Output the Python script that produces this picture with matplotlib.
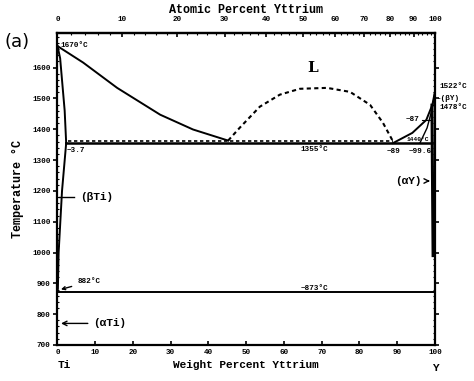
import numpy as np
import matplotlib.pyplot as plt
from matplotlib.ticker import MultipleLocator, FixedLocator

# 相图数据（重量百分比 Y, 温度 °C）
liq_ti_w = [0.0, 0.7, 6.8, 15.8, 27.2, 35.9, 45.2]
liq_ti_t = [1670, 1664, 1616, 1534, 1447, 1399, 1363]

sol_ti_w = [0.0, 0.7, 1.9, 2.3]
sol_ti_t = [1670, 1630, 1460, 1355]

solv_ti_w = [2.3, 1.2, 0.3, 0.1]
solv_ti_t = [1355, 1200, 1000, 882]

dome_w = [45.2, 48.3, 53.6, 58.9, 64.2, 71.4, 77.5, 82.8, 86.2, 88.9]
dome_t = [1363, 1405, 1473, 1512, 1531, 1534, 1521, 1479, 1421, 1360]

liq_y_w = [88.9, 94.0, 97.7, 99.3, 100.0]
liq_y_t = [1355, 1388, 1430, 1479, 1522]

sol_y_w = [96.0, 97.9, 99.2, 100.0]
sol_y_t = [1355, 1404, 1463, 1522]

solv_y_w = [99.2, 99.3, 99.5]
solv_y_t = [1478, 1300, 990]

T_mono = 1355      # 实线
T_dash = 1363      # 虚线
T_eutectoid = 873
T_ti_ab = 882

w_mono = [2.3, 99.3]
w_dash = [2.8, 88.9]
w_eutectoid = [0.1, 100.0]

at_ticks = [0, 10, 20, 30, 40, 50, 60, 70, 80, 90, 100]
wt_ticks = [0, 10, 20, 30, 40, 50, 60, 70, 80, 90, 100]
t_ticks = [700, 800, 900, 1000, 1100, 1200, 1300, 1400, 1500, 1600]

M_TI, M_Y = 47.867, 88.906


def wt2at(w):
    w = np.clip(np.asarray(w, dtype=float), 0, 100)
    a = w / M_Y
    b = (100 - w) / M_TI
    return 100 * a / (a + b)


def at2wt(x):
    x = np.clip(np.asarray(x, dtype=float), 0, 100)
    a = x * M_Y
    b = (100 - x) * M_TI
    return 100 * a / (a + b)


mono = 'Liberation Mono'
fig = plt.figure(figsize=(4.74, 3.81), dpi=100)
ax = fig.add_axes([0.1213, 0.0945, 0.7964, 0.8189])
ax.set_xlim(0, 100)
ax.set_ylim(700, 1712)

lw = 1.4
k = 'black'
ax.plot(liq_ti_w, liq_ti_t, color=k, lw=lw)
ax.plot(sol_ti_w, sol_ti_t, color=k, lw=lw)
ax.plot(solv_ti_w, solv_ti_t, color=k, lw=lw)
ax.plot(dome_w, dome_t, color=k, lw=1.5, ls=(0, (2, 1.6)))
ax.plot(liq_y_w, liq_y_t, color=k, lw=lw)
ax.plot(sol_y_w, sol_y_t, color=k, lw=1.0)
ax.plot(solv_y_w, solv_y_t, color=k, lw=2.2)
ax.plot([99.2, 100], [1478, 1478], color=k, lw=1.0)
ax.plot(w_mono, [T_mono, T_mono], color=k, lw=1.8)
ax.plot(w_dash, [T_dash, T_dash], color=k, lw=1.2, ls=(0, (2, 1.6)))
ax.plot(w_eutectoid, [T_eutectoid, T_eutectoid], color=k, lw=1.4)

# 文字标注
fs = 5.5
tk = dict(family=mono, fontweight='bold', fontsize=fs)
ax.text(0.8, 1670, '1670°C', va='center', ha='left', **tk)
ax.text(2.5, 1330, '~3.7', va='center', ha='left', **tk)
ax.text(6.0, 1180, '(βTi)', va='center', ha='left', family=mono, fontweight='bold', fontsize=8)
ax.plot([0.3, 4.5], [1180, 1180], color=k, lw=1.0)
ax.annotate('882°C', xy=(0.2, 878), xytext=(5.2, 905), va='center', ha='left',
            arrowprops=dict(arrowstyle='->', color=k, lw=1.0), **tk)
ax.annotate('(αTi)', xy=(0.2, 770), xytext=(9.5, 770), va='center', ha='left',
            arrowprops=dict(arrowstyle='->', color=k, lw=1.0),
            family=mono, fontweight='bold', fontsize=8)
ax.text(64.5, 873, '~873°C', va='bottom', ha='left', **tk)
ax.text(64.3, 1345, '1355°C', va='top', ha='left', **tk)
ax.text(89.0, 1340, '~89', va='top', ha='center', **tk)
ax.text(96.0, 1340, '~99.6', va='top', ha='center', **tk)
ax.text(92.6, 1360, '1440°C', va='bottom', ha='left', family=mono, fontweight='bold', fontsize=4.5)
ax.text(94.0, 1430, '~87', va='center', ha='center', **tk)
ax.plot([96.5, 99.3], [1430, 1430], color=k, lw=0.8)
ax.text(101.2, 1540, '1522°C', va='center', ha='left', clip_on=False, **tk)
ax.text(100.6, 1500, '-(βY)', va='center', ha='left', clip_on=False, **tk)
ax.text(101.2, 1470, '1478°C', va='center', ha='left', clip_on=False, **tk)
ax.annotate('(αY)', xy=(99.4, 1232), xytext=(96.5, 1232), va='center', ha='right',
            arrowprops=dict(arrowstyle='->', color=k, lw=1.0),
            family=mono, fontweight='bold', fontsize=8)
ax.text(67.5, 1600, 'L', va='center', ha='center', family='DejaVu Serif',
        fontweight='bold', fontsize=11)

# 坐标轴
for s in ax.spines.values():
    s.set_linewidth(1.6)
ax.set_xticks(wt_ticks)
ax.set_xticklabels([str(v) for v in wt_ticks], **tk)
ax.set_yticks(t_ticks)
ax.set_yticklabels([str(v) for v in t_ticks], **tk)
ax.yaxis.set_minor_locator(MultipleLocator(20))
ax.tick_params(axis='x', direction='in', length=3, width=1.2, pad=3)
ax.tick_params(axis='y', direction='out', length=3, width=1.2, pad=2,
               right=True)
ax.tick_params(axis='y', which='minor', direction='in', length=1.5, width=0.8,
               right=True)

sec = ax.secondary_xaxis('top', functions=(wt2at, at2wt))
sec.xaxis.set_major_locator(FixedLocator(at_ticks))
sec.xaxis.set_minor_locator(FixedLocator(np.arange(2, 100, 2)))
sec.set_xticklabels([str(v) for v in at_ticks], **tk)
sec.tick_params(which='major', direction='in', length=3, width=1.2, pad=7)
sec.tick_params(which='minor', direction='in', length=1.5, width=0.8)
sec.spines['top'].set_linewidth(1.6)
sec.set_xlabel('Atomic Percent Yttrium', family=mono, fontweight='bold',
               fontsize=8.5, labelpad=2)

ax.set_xlabel('Weight Percent Yttrium', family=mono, fontweight='bold',
              fontsize=8, labelpad=3)
ax.set_ylabel('Temperature °C', family=mono, fontweight='bold',
              fontsize=8.5, labelpad=6)

fig.text(0.01, 0.89, '(a)', fontsize=13, ha='left', va='center')
fig.text(57.5 / 474, 0.042, 'Ti', family=mono, fontweight='bold', fontsize=8,
         ha='left', va='center')
fig.text(435 / 474, 0.035, 'Y', family=mono, fontweight='bold', fontsize=8,
         ha='center', va='center')

fig.savefig('out.png', dpi=100)
